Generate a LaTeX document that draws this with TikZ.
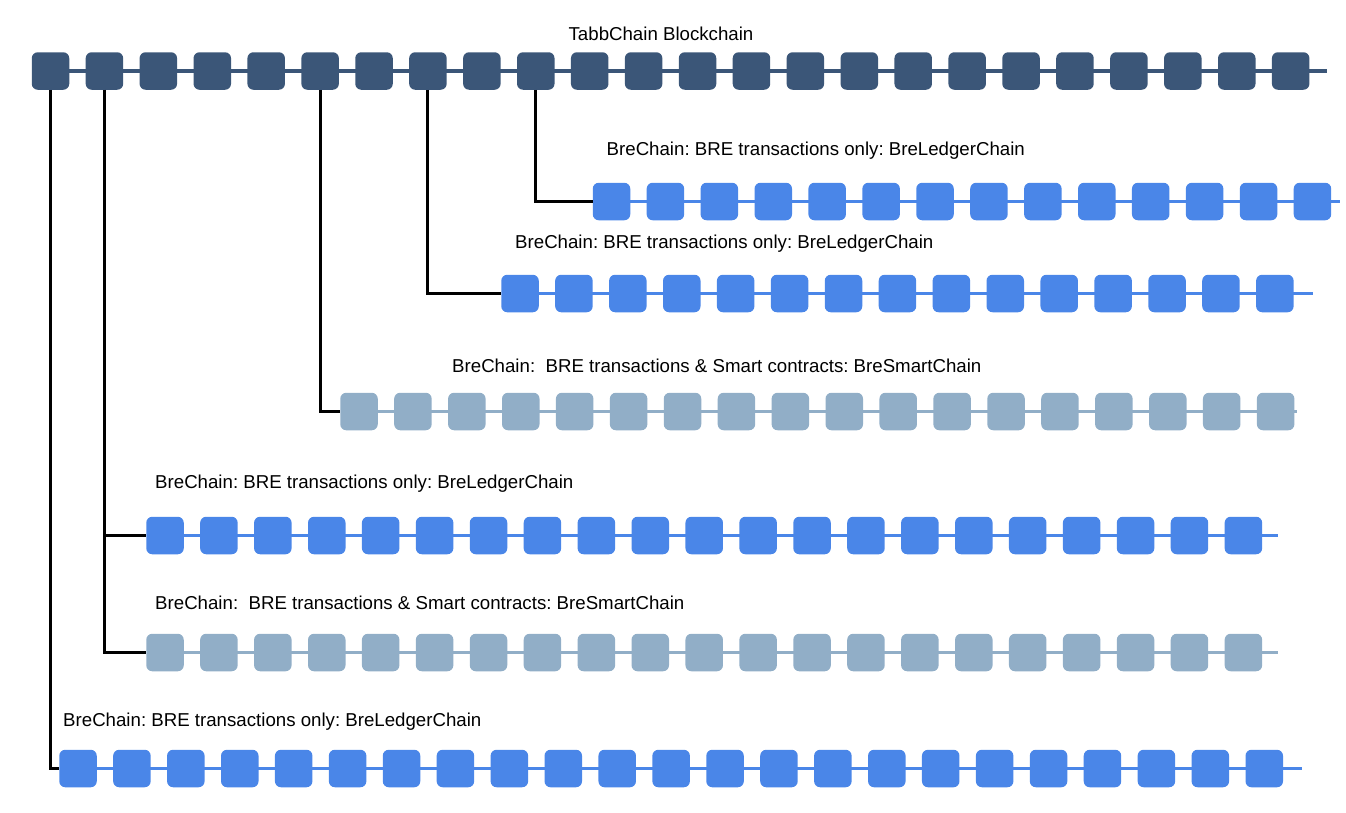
\documentclass[tikz,border=0pt]{standalone}
\usepackage{fontspec}
\setmainfont{Liberation Sans}
\usetikzlibrary{backgrounds}
\definecolor{topblue}{HTML}{3B5678}
\definecolor{brightblue}{HTML}{4A86E8}
\definecolor{greyblue}{HTML}{91AEC7}
\tikzset{
  blk/.style={rectangle, rounded corners=6pt, minimum width=37.5pt, minimum height=37.5pt, inner sep=0pt, draw=none, fill=#1},
  chline/.style={draw=#1, line width=3.2pt},
  conn/.style={draw=black, line width=3pt},
  lbl/.style={inner sep=0pt, font=\fontsize{18.67}{22}\selectfont\frenchspacing, text=black}
}
\newcommand{\mkchain}[6]{%
  \foreach \i in {1,...,#2}{%
    \node[blk=#5] (#1-\i) at ({#3+(\i-1)*53.92},#4) {};
  }%
  \coordinate (#1-end) at (#6,#4);
  \begin{pgfonlayer}{background}
    \draw[chline=#5] (#1-1.center) -- (#1-end);
  \end{pgfonlayer}
}
\begin{document}
\begin{tikzpicture}[x=1pt,y=-1pt]
\useasboundingbox (0,0) rectangle (1346,812);
% main chain
\mkchain{t}{24}{50.5}{71}{topblue}{1327}
% branch chains
\mkchain{ca}{14}{611.5}{201.5}{brightblue}{1340}
\mkchain{cb}{15}{520}{293.5}{brightblue}{1313}
\mkchain{cc}{18}{359}{411.5}{greyblue}{1297}
\mkchain{cd}{21}{165}{535.5}{brightblue}{1278}
\mkchain{ce}{21}{165}{652.5}{greyblue}{1278}
\mkchain{cf}{23}{78}{768.5}{brightblue}{1302}
% connectors
\draw[conn] (t-10.south) |- (ca-1.west);
\draw[conn] (t-8.south) |- (cb-1.west);
\draw[conn] (t-6.south) |- (cc-1.west);
\draw[conn] (t-2.south) |- (cd-1.west);
\draw[conn] (t-2.south) |- (ce-1.west);
\draw[conn] (t-1.south) |- (cf-1.west);
% labels
\node[lbl, anchor=base] (title) at (661,40) {TabbChain Blockchain};
\node[lbl, anchor=base west] (la) at (606.5,155) {BreChain: BRE transactions only: BreLedgerChain};
\node[lbl, anchor=base west] (lb) at (515,248) {BreChain: BRE transactions only: BreLedgerChain};
\node[lbl, anchor=base west] (lc) at (452,372.5) {BreChain:~ BRE transactions \& Smart contracts: BreSmartChain};
\node[lbl, anchor=base west] (ld) at (155,488.5) {BreChain: BRE transactions only: BreLedgerChain};
\node[lbl, anchor=base west] (le) at (155,609) {BreChain:~ BRE transactions \& Smart contracts: BreSmartChain};
\node[lbl, anchor=base west] (lf) at (63,726.5) {BreChain: BRE transactions only: BreLedgerChain};
\end{tikzpicture}
\end{document}
